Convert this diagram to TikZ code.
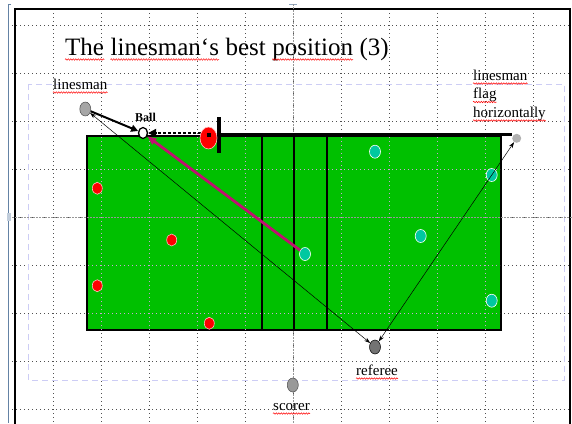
\documentclass[tikz,border=0pt]{standalone}
\usepackage{fontspec}
\setmainfont{Liberation Serif}
\usetikzlibrary{arrows.meta,positioning,shapes.geometric,calc,decorations.pathmorphing}

\definecolor{pitch}{RGB}{0,192,0}
\definecolor{teamred}{RGB}{255,0,0}
\definecolor{teamteal}{RGB}{0,200,160}
\definecolor{passpink}{RGB}{192,16,112}
\definecolor{guide}{RGB}{150,150,150}
\definecolor{dashblue}{RGB}{205,205,245}
\definecolor{rulerblue}{RGB}{100,130,165}
\definecolor{griddot}{RGB}{80,80,80}
\definecolor{griddotpitch}{RGB}{205,165,215}

\begin{document}
\begin{tikzpicture}[x=1pt,y=-1pt,
  redp/.style={ellipse, fill=teamred, draw=red!25, line width=0.6pt,
               minimum width=10pt, minimum height=12pt, inner sep=0pt},
  tealp/.style={ellipse, fill=teamteal, draw=white, line width=0.6pt,
                minimum width=11pt, minimum height=13pt, inner sep=0pt},
  official/.style={ellipse, draw=black!70, line width=0.5pt,
                   minimum width=11pt, minimum height=14pt, inner sep=0pt},
  lbl/.style={anchor=base west, font=\fontsize{15}{18}\selectfont, inner sep=0pt},
  ttl/.style={font=\fontsize{25}{30}\selectfont, inner sep=0pt},
  squiggle/.style={red, line width=0.5pt, decorate,
                   decoration={snake, amplitude=0.7pt, segment length=2.5pt}},
  gridline/.style={griddot, line width=0.7pt, dash pattern=on 0.7pt off 3.3pt},
  watch/.style={{Stealth[length=6pt,width=4pt]}-{Stealth[length=6pt,width=4pt]}, line width=0.5pt},
]
\fill[white] (0,0) rectangle (572,423);
\useasboundingbox (0,0) rectangle (572,423);

% Dotted grid
\foreach \gy in {25,73,...,409}
  \draw[gridline] (12,\gy) -- (572,\gy);
\foreach \gx in {53,101,...,533}
  \draw[gridline] (\gx,9) -- (\gx,423);

% Frame and guides
\draw[dashblue, line width=0.8pt, dash pattern=on 6pt off 4pt] (28,84) rectangle (564,380);
\draw[line width=1.2pt] (15,424) -- (15,9) -- (570,9) -- (570,424);
\draw[rulerblue, line width=0.8pt] (11,4) -- (8,4) -- (8,423);
\fill[rulerblue!40] (6.5,213) rectangle (11,221);
\draw[rulerblue!70, line width=0.8pt] (289,4) -- (297,4);

% Title
\node[ttl, anchor=base west] (t1) at (65,55) {The};
\node[ttl, base right=6.2pt of t1] (t2) {linesman‘s};
\node[ttl, base right=6.2pt of t2] (t3) {best};
\node[ttl, base right=6.2pt of t3] (t4) {position};
\node[ttl, base right=6.2pt of t4] (t5) {(3)};

% Pitch
\filldraw[fill=pitch, line width=1.8pt] (87,136) rectangle (501,330);
\begin{scope}
  \clip (88,137) rectangle (500,329);
  \foreach \gy in {169,265,313}
    \draw[gridline, griddotpitch] (12,\gy) -- (572,\gy);
  \foreach \gx in {101,149,...,485}
    \draw[gridline, griddotpitch] (\gx,9) -- (\gx,423);
\end{scope}
\draw[guide, line width=0.8pt, dash pattern=on 2pt off 1pt] (293,4) -- (293,423);
\draw[guide, line width=0.8pt, dash pattern=on 2pt off 1pt] (12,217) -- (572,217);
\foreach \lx in {262,294,327}
  \draw[line width=1.6pt] (\lx,136) -- (\lx,330);
\draw[line width=3.5pt] (217,134.5) -- (512,134.5);
\draw[line width=4pt] (219,117) -- (219,153);
\coordinate (flagpost) at (216,133);

% Ball
\node[ellipse, draw, fill=white, line width=1.3pt, minimum width=9pt,
      minimum height=11pt, inner sep=0pt] (ball) at (143,133) {};
\node[anchor=base, inner sep=0pt, font=\fontsize{12}{14}\selectfont\bfseries]
  (balltxt) at (145.5,121) {Ball};

% Officials
\node[official, fill=black!35] (lmL) at (85.3,109) {};
\node[ellipse, fill=black!30, minimum width=9pt, minimum height=9pt,
      inner sep=0pt] (lmR) at (516.7,138.3) {};
\node[official, fill=black!55, draw=black] (ref) at (375,347) {};
\node[official, fill=black!40] (sco) at (292.8,385) {};

% Players
\node[redp] (rp1) at (97.3,188.3) {};
\node[redp] (rp2) at (171.7,240) {};
\node[redp] (rp3) at (97.3,285.7) {};
\node[redp] (rp4) at (209.3,323.3) {};
\node[tealp] (tp1) at (375,151.7) {};
\node[tealp] (tp2) at (491.7,175) {};
\node[tealp] (tp3) at (420.7,236) {};
\node[tealp] (tp4) at (305,254) {};
\node[tealp] (tp5) at (491.7,300.7) {};

% Arrows
\draw[line width=2pt, dash pattern=on 3pt off 2pt,
      -{Triangle[length=8pt,width=8pt]}] (flagpost) -- (ball);
\node[redp, minimum width=17pt, minimum height=22pt] (rp0) at (208.5,138) {};
\fill (206.7,133.3) rectangle (210.7,137.3);
\draw[line width=2pt, -{Triangle[length=7pt,width=7pt]}] (lmL) -- (ball);
\draw[passpink, line width=2.8pt, -{Triangle[length=9pt,width=7pt]}] (tp4) -- (ball);
\draw[watch] (ref) -- (lmL);
\draw[watch] (ref) -- (lmR);

% Labels
\node[lbl] (lmLtxt) at (53,89) {linesman};
\node[lbl] (lmRtxt1) at (473,80) {linesman};
\node[lbl] (lmRtxt2) at (473,98.5) {flag};
\node[lbl] (lmRtxt3) at (473,117) {horizontally};
\node[lbl] (reftxt) at (356,375) {referee};
\node[lbl] (scotxt) at (273,410) {scorer};

% Spell-check marks
\foreach \w in {t1,t2,t4}
  \draw[squiggle] ($(\w.base west)+(0,4.5)$) -- ($(\w.base east)+(0,4.5)$);
\foreach \w in {lmLtxt,lmRtxt1,lmRtxt2,lmRtxt3,reftxt,scotxt}
  \draw[squiggle] ($(\w.base west)+(0,3.5)$) -- ($(\w.base east)+(0,3.5)$);

\end{tikzpicture}
\end{document}
